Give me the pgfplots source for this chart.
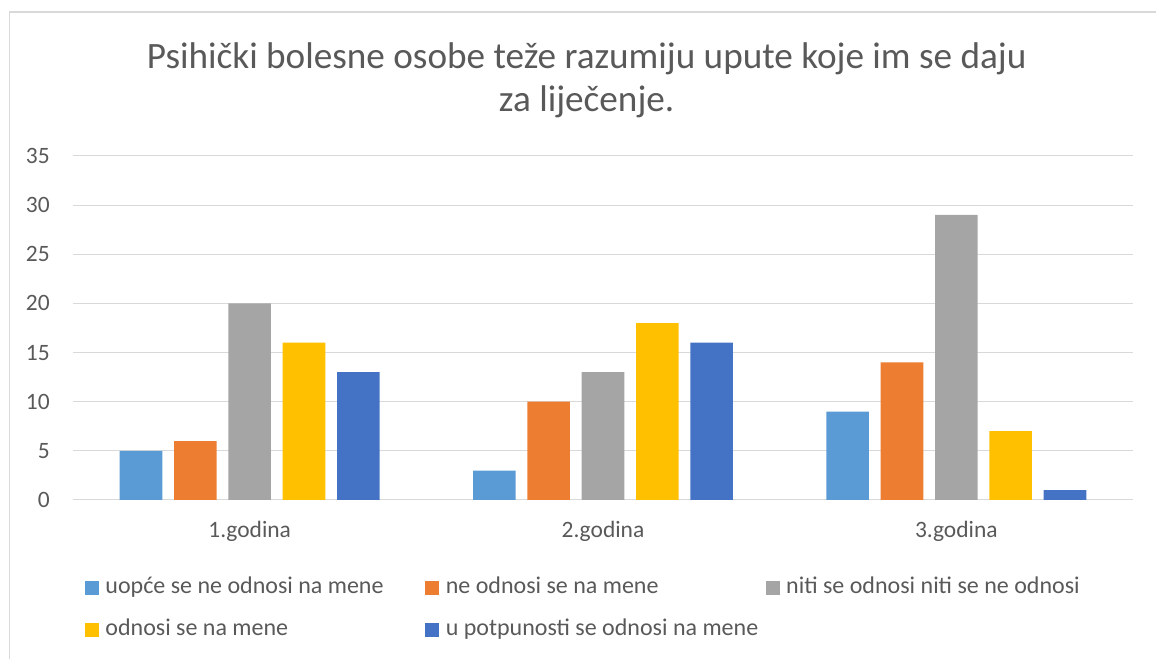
\documentclass[border=0pt]{standalone}
\usepackage{fontspec}
\setmainfont{Carlito}
\usepackage{pgfplots}
\pgfplotsset{compat=1.18}
\definecolor{c1}{HTML}{5B9BD5}
\definecolor{c2}{HTML}{ED7D31}
\definecolor{c3}{HTML}{A5A5A5}
\definecolor{c4}{HTML}{FFC000}
\definecolor{c5}{HTML}{4472C4}
\definecolor{txt}{HTML}{595959}
\definecolor{gridc}{HTML}{D9D9D9}
\newcommand{\lbl}[1]{\makebox[240pt][l]{#1}}
\pgfplotsset{
  /pgfplots/ybar legend/.style={/pgfplots/legend image code/.code={\fill[##1] (0pt,-5.25pt) rectangle (10.5pt,5.25pt);}},
}
\begin{document}
\begin{tikzpicture}
\useasboundingbox (0,0) rectangle (867pt,494.25pt);
\draw[gridc, line width=1.1pt] (7.125pt,-2pt) -- (7.125pt,485.25pt) -- (870pt,485.25pt);
\begin{axis}[
  at={(54.75pt,119.25pt)}, anchor=south west,
  scale only axis, width=795pt, height=258pt,
  ybar=8.85pt, bar width=31.9pt,
  xmin=-0.5, xmax=2.5, ymin=0, ymax=35,
  xtick={0,1,2}, xticklabels={1.godina,2.godina,3.godina},
  ytick={0,5,...,35},
  ymajorgrids, grid style={draw=gridc, line width=0.75pt},
  axis line style={draw=none},
  major tick length=0pt,
  tick label style={font=\fontsize{17.6pt}{21pt}\selectfont, text=txt},
  /pgf/number format/assume math mode=true,
  yticklabel style={inner sep=0pt, anchor=east, xshift=-17.25pt},
  xticklabel style={inner sep=0pt, anchor=base, yshift=-28.5pt},
  legend columns=3,
  legend cell align=left,
  legend style={at={(0.01132,-0.2232)}, anchor=north west, draw=none, inner sep=0pt, outer sep=0pt, fill=none,
    font=\fontsize{18pt}{21.5pt}\selectfont, text=txt,
    nodes={inner sep=0pt, text height=12.2pt, text depth=4pt},
    row sep=15.4pt,
    /tikz/every odd column/.append style={column sep=4.8pt},
    /tikz/every even column/.append style={column sep=0pt}},
  clip=false,
]
\addplot[fill=c1, draw=none] coordinates {(0,5) (1,3) (2,9)};
\addplot[fill=c2, draw=none] coordinates {(0,6) (1,10) (2,14)};
\addplot[fill=c3, draw=none] coordinates {(0,20) (1,13) (2,29)};
\addplot[fill=c4, draw=none] coordinates {(0,16) (1,18) (2,7)};
\addplot[fill=c5, draw=none] coordinates {(0,13) (1,16) (2,1)};
\legend{\lbl{uopće se ne odnosi na mene},\lbl{ne odnosi se na mene},\lbl{niti se odnosi niti se ne odnosi},\lbl{odnosi se na mene},\lbl{u potpunosti se odnosi na mene}}
\end{axis}
\node[anchor=base, text=txt, font=\fontsize{27.9pt}{33pt}\selectfont, inner sep=0pt] at (440pt,443pt) {Psihički bolesne osobe teže razumiju upute koje im se daju};
\node[anchor=base, text=txt, font=\fontsize{27.9pt}{33pt}\selectfont, inner sep=0pt] at (440pt,410.4pt) {za liječenje.};
\end{tikzpicture}
\end{document}
